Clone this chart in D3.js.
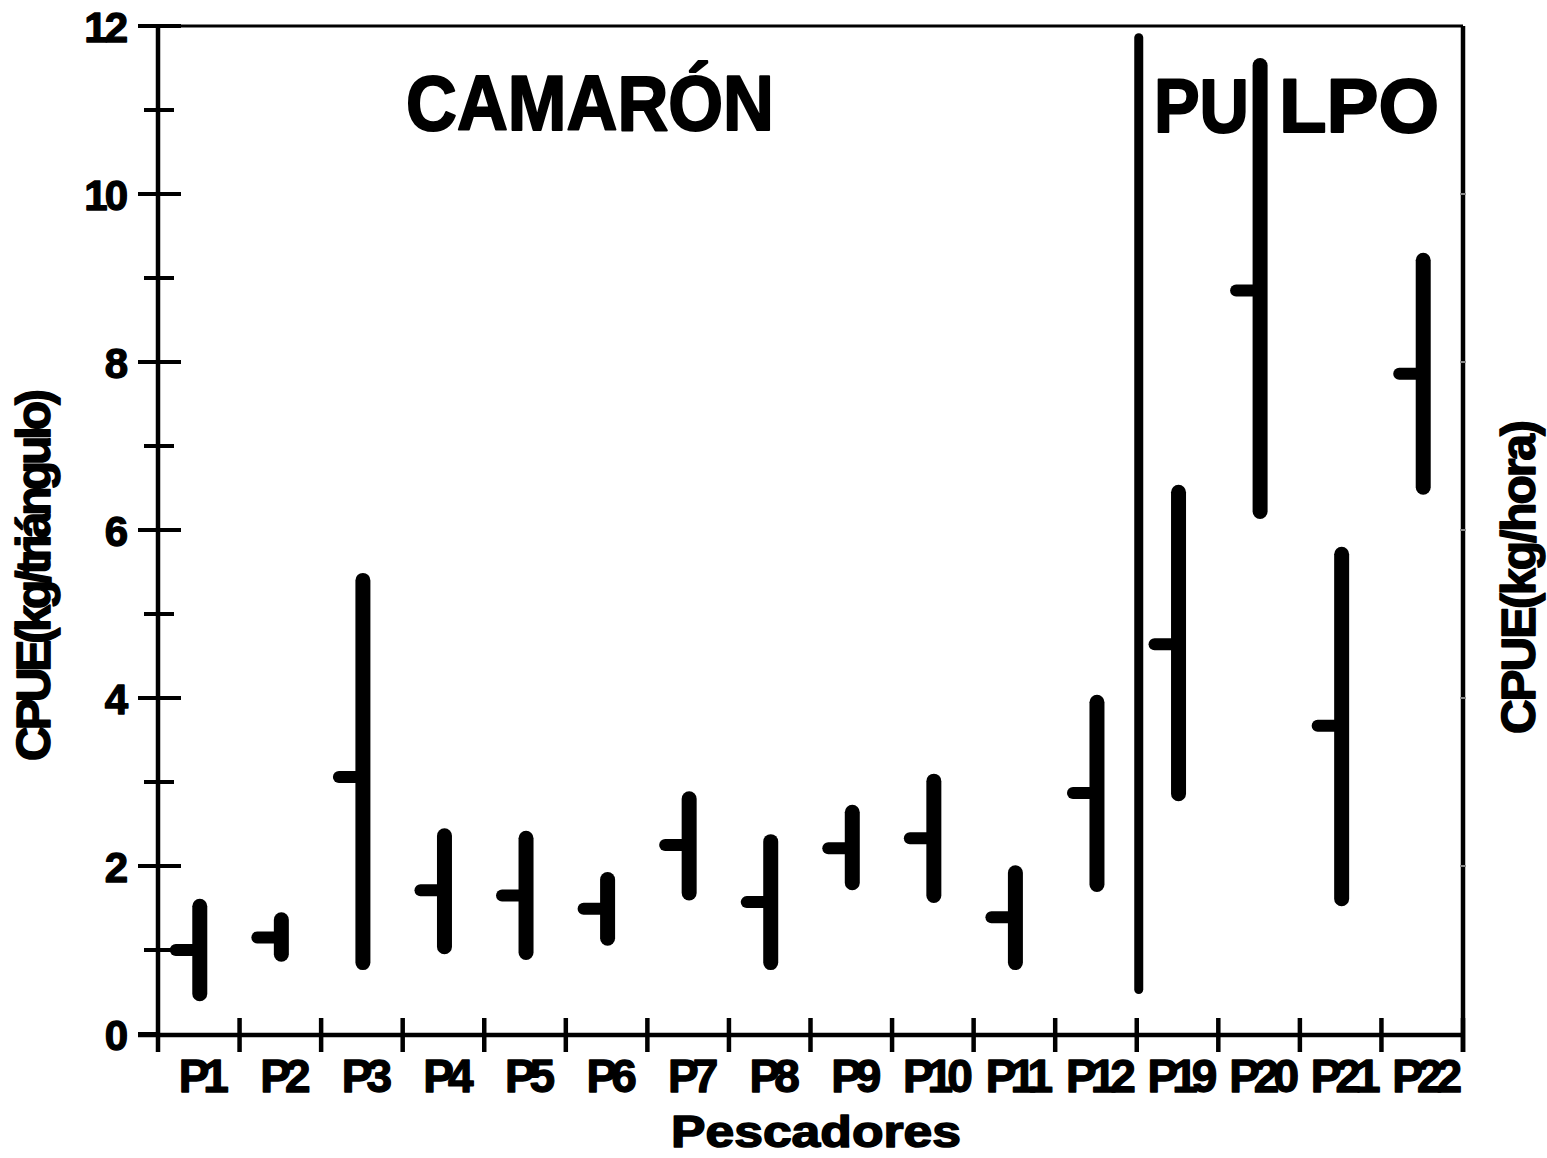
<!DOCTYPE html>
<html>
<head>
<meta charset="utf-8">
<script src="https://cdn.jsdelivr.net/npm/d3@7"></script>
<style>
  html, body { margin: 0; padding: 0; background: #fff; }
  svg { display: block; }
  text { font-family: "Liberation Sans", Arial, sans-serif; font-weight: bold; fill: #000; stroke: #000; stroke-linejoin: round; }
</style>
</head>
<body>
<svg id="chart" width="1547" height="1158"></svg>
<script>
// ---- data ----
const categories = ["P1","P2","P3","P4","P5","P6","P7","P8","P9","P10","P11","P12","P19","P20","P21","P22"];
const minValues  = [0.48, 0.95, 0.85, 1.04, 0.97, 1.14, 1.68, 0.85, 1.80, 1.65, 0.85, 1.78, 2.86, 6.22, 1.61, 6.51];
const maxValues  = [1.52, 1.36, 5.40, 2.36, 2.33, 1.84, 2.80, 2.29, 2.64, 3.01, 1.92, 3.95, 6.45, 11.53, 5.71, 9.21];
const meanValues = [1.00, 1.15, 3.06, 1.71, 1.65, 1.49, 2.25, 1.57, 2.21, 2.33, 1.39, 2.87, 4.64, 8.85, 3.67, 7.86];
const yMajorTicks = [0, 2, 4, 6, 8, 10, 12];
const yMinorTicks = [1, 3, 5, 7, 9, 11];
const dividerCategory = "P19";
const dividerRange = [0.53, 11.86];
const groupLabels = ["CAMARÓN", "PULPO"];
const xTitle = "Pescadores";
const yTitleLeft = "CPUE(kg/triángulo)";
const yTitleRight = "CPUE(kg/hora)";

(function () {
// ---- layout ----
const svg = d3.select("#chart");
const mLeft = 158, mRight = 1463, mTop = 26, mBottom = 1034;

const x = d3.scaleBand().domain(categories).range([mLeft, mRight]).padding(0);
const y = d3.scaleLinear().domain([0, 12]).range([mBottom, mTop]);
const cx = c => x(c) + x.bandwidth() / 2 + 1;

// top frame line
svg.append("line").attr("x1", 138).attr("x2", mRight).attr("y1", y(12)).attr("y2", y(12))
  .attr("stroke", "#000").attr("stroke-width", 3);
// right frame line
svg.append("line").attr("x1", mRight).attr("x2", mRight).attr("y1", y(12)).attr("y2", 1052)
  .attr("stroke", "#000").attr("stroke-width", 4.5);
// grey ticks on right frame
svg.selectAll(".rtick").data([2,4,6,8,10]).enter().append("line")
  .attr("x1", mRight - 3).attr("x2", mRight + 3)
  .attr("y1", d => y(d)).attr("y2", d => y(d))
  .attr("stroke", "#888").attr("stroke-width", 2);

// left axis with ticks
const yAxis = d3.axisLeft(y).tickValues(yMajorTicks).tickSize(0).tickFormat(d3.format("d"));
const gy = svg.append("g").attr("transform", `translate(${mLeft},0)`).call(yAxis);
gy.select(".domain").remove();
gy.selectAll("text").attr("x", -33).attr("dy", "0.36em")
  .style("font-size", "42px").style("letter-spacing", "-3px").style("stroke-width", "1.3px")
  .style("font-family", '"Liberation Sans", Arial, sans-serif').style("font-weight", "bold");

svg.append("line").attr("x1", mLeft).attr("x2", mLeft).attr("y1", y(12)).attr("y2", 1052)
  .attr("stroke", "#000").attr("stroke-width", 4.5);
svg.selectAll(".ymaj").data(yMajorTicks).enter().append("line")
  .attr("x1", 138).attr("x2", d => d === 0 ? mLeft : 181)
  .attr("y1", d => y(d)).attr("y2", d => y(d))
  .attr("stroke", "#000").attr("stroke-width", 4);
svg.selectAll(".ymin").data(yMinorTicks).enter().append("line")
  .attr("x1", 144).attr("x2", 174)
  .attr("y1", d => y(d)).attr("y2", d => y(d))
  .attr("stroke", "#000").attr("stroke-width", 4);

// bottom axis
const xAxis = d3.axisBottom(x).tickSize(0);
const gx = svg.append("g").attr("transform", `translate(0,${mBottom})`).call(xAxis);
gx.select(".domain").remove();
gx.selectAll("text").attr("y", 58).attr("dy", 0).attr("x", 2)
  .style("font-size", "46px").style("letter-spacing", "-6px").style("stroke-width", "1.3px")
  .style("font-family", '"Liberation Sans", Arial, sans-serif').style("font-weight", "bold");

svg.append("line").attr("x1", 138).attr("x2", mRight).attr("y1", mBottom + 1).attr("y2", mBottom + 1)
  .attr("stroke", "#000").attr("stroke-width", 4.5);
const boundaries = categories.slice(1).map(c => x(c)).concat([mRight]);
svg.selectAll(".xtick").data(boundaries).enter().append("line")
  .attr("x1", d => d).attr("x2", d => d).attr("y1", 1018).attr("y2", 1052)
  .attr("stroke", "#000").attr("stroke-width", 4.5);

// divider
svg.append("line")
  .attr("x1", x(dividerCategory) + 2).attr("x2", x(dividerCategory) + 2)
  .attr("y1", y(dividerRange[0])).attr("y2", y(dividerRange[1]))
  .attr("stroke", "#000").attr("stroke-width", 9).attr("stroke-linecap", "round");

// range bars
const data = categories.map((c, i) => ({ c, min: minValues[i], max: maxValues[i], mean: meanValues[i] }));
svg.selectAll(".meanTick").data(data).enter().append("line")
  .attr("x1", d => cx(d.c) - 24).attr("x2", d => cx(d.c))
  .attr("y1", d => y(d.mean)).attr("y2", d => y(d.mean))
  .attr("stroke", "#000").attr("stroke-width", 12).attr("stroke-linecap", "round");
svg.selectAll(".rangeBar").data(data).enter().append("line")
  .attr("x1", d => cx(d.c)).attr("x2", d => cx(d.c))
  .attr("y1", d => y(d.min)).attr("y2", d => y(d.max))
  .attr("stroke", "#000").attr("stroke-width", 15).attr("stroke-linecap", "round");

// group labels
svg.append("text").attr("x", 590).attr("y", 130).attr("text-anchor", "middle")
  .style("font-size", "77px").style("stroke-width", "2px")
  .attr("textLength", 368).attr("lengthAdjust", "spacingAndGlyphs")
  .text(groupLabels[0]);
const pul = svg.append("text").attr("y", 132).style("font-size", "76px").style("stroke-width", "2px");
pul.append("tspan").attr("x", 1154).attr("textLength", 95).attr("lengthAdjust", "spacingAndGlyphs")
  .text(groupLabels[1].slice(0, 2));
pul.append("tspan").attr("x", 1279).attr("textLength", 160).attr("lengthAdjust", "spacingAndGlyphs")
  .text(groupLabels[1].slice(2));

// titles
svg.append("text").attr("x", 816).attr("y", 1147).attr("text-anchor", "middle")
  .style("font-size", "44px").style("stroke-width", "1.5px")
  .attr("textLength", 290).attr("lengthAdjust", "spacingAndGlyphs")
  .text(xTitle);
svg.append("text").attr("transform", "translate(50,575) rotate(-90)").attr("text-anchor", "middle")
  .style("font-size", "48px").style("stroke-width", "1.5px")
  .attr("textLength", 372).attr("lengthAdjust", "spacing")
  .text(yTitleLeft);
svg.append("text").attr("transform", "translate(1535,577) rotate(-90)").attr("text-anchor", "middle")
  .style("font-size", "48px").style("stroke-width", "1.5px")
  .attr("textLength", 314).attr("lengthAdjust", "spacing")
  .text(yTitleRight);
})();
</script>
</body>
</html>
